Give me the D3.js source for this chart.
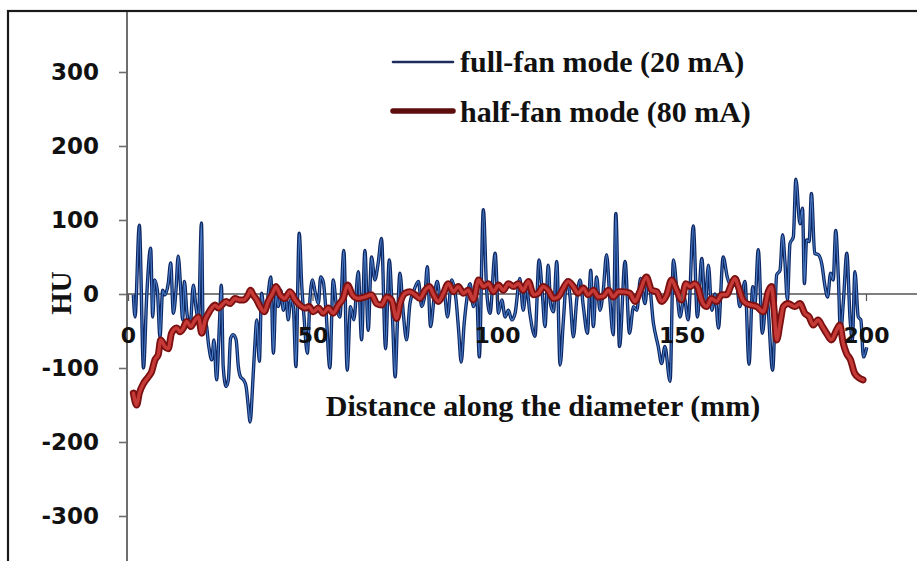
<!DOCTYPE html>
<html>
<head>
<meta charset="utf-8">
<script src="https://cdn.jsdelivr.net/npm/d3@7/dist/d3.min.js"></script>
<style>
  html, body { margin: 0; padding: 0; background: #fff; }
  svg { display: block; }
</style>
</head>
<body>
<svg id="chart" width="917" height="561"></svg>
<script>
// HU profile along the phantom diameter, two CBCT acquisition modes

// full-fan mode (20 mA): distance (mm) and HU
const fullFanMM = [
  1.45, 1.9, 3.07, 4.2, 5.06, 6.14, 6.7, 7.2, 7.95, 8.67, 9.4, 10.0, 10.9, 11.56, 12.3, 13.0, 13.6, 14.3, 14.8, 15.3,
  15.9, 16.8, 17.7, 18.4, 19.1, 19.9, 20.4, 21.1, 21.9, 22.7, 23.3, 24.0, 24.75, 25.3, 25.8, 26.6, 27.2, 27.8, 28.5, 29.3,
  29.9, 30.5, 31.3, 32.0, 32.6, 33.1, 33.8, 34.4, 34.9, 35.6, 36.2, 36.9, 37.6, 38.7, 39.4, 40.1, 40.7, 41.4, 42.1, 42.8,
  43.4, 44.1, 44.8, 45.5, 46.4, 47.1, 47.7, 48.6, 49.3, 50.0, 50.7, 51.6, 52.2, 52.9, 53.7, 54.7, 55.6, 56.5, 57.4, 58.5,
  59.4, 60.3, 61.2, 62.4, 63.3, 64.2, 65.1, 66.0, 66.9, 67.8, 68.7, 69.8, 70.8, 71.7, 72.4, 73.0, 73.7, 74.6, 75.5, 76.4,
  77.5, 78.7, 79.6, 80.5, 81.1, 82.0, 82.9, 83.8, 84.7, 85.6, 86.6, 87.7, 88.9, 89.6, 90.3, 91.1, 91.8, 92.7, 93.6, 94.5,
  95.2, 96.3, 97.2, 98.1, 99.5, 100.4, 101.3, 102.2, 103.1, 104.0, 104.9, 106.2, 107.1, 108.0, 108.9, 110.3, 111.4, 112.3, 113.0, 113.9,
  114.5, 115.3, 116.2, 117.1, 118.0, 118.9, 119.8, 120.7, 121.6, 122.5, 123.4, 124.5, 125.4, 126.1, 127.0, 127.9, 128.8, 129.7, 130.6, 131.5,
  132.2, 133.2, 134.7, 135.9, 137.0, 137.9, 138.9, 140.1, 141.0, 142.4, 143.7, 144.6, 145.5, 146.9, 147.8, 148.9, 149.6, 150.7, 151.8, 153.2,
  154.3, 155.5, 156.4, 157.3, 158.2, 159.1, 160.0, 161.3, 162.4, 163.6, 164.9, 165.8, 167.2, 168.3, 169.3, 169.9, 170.8, 171.9, 173.1, 174.7,
  175.8, 176.7, 177.4, 178.0, 178.7, 179.4, 180.3, 181.0, 182.1, 182.8, 183.3, 183.9, 184.6, 185.2, 186.1, 187.1, 188.0, 188.9, 189.6, 190.4,
  191.1, 191.8, 192.5, 193.1, 193.9, 194.8, 195.7, 196.3, 197.0, 197.9, 198.6, 199.3, 200.2
];
const fullFanHU = [
  -1, -31, 93, -100, -4, 62, -31, 19, 5, -58, 5, -1, 14, 42, -26, 5, 51, 5, -35, 17,
  -22, -46, 12, -17, -35, 96, -53, -40, -71, -89, -62, -116, -44, 12, -98, -125, -116, -60, -55, -62,
  -98, -112, -116, -125, -152, -173, -121, -67, -35, -91, 1, -22, -15, 23, -80, -1, -17, 5, -22, -1,
  -35, -8, -17, -98, 82, 10, -31, -80, -8, 19, 3, -13, 23, 17, -26, -100, 19, -17, -31, 59,
  -103, -17, -35, 30, -62, 59, -49, 50, 19, 42, 75, -74, 46, -35, -112, -40, 28, -26, -62, -13,
  5, 17, -17, 1, 37, -44, -8, 17, -8, 5, -31, 19, -8, -49, -92, -40, -8, 14, -17, -4,
  -85, 114, 5, -26, 55, -26, -8, -31, -22, -35, -26, 21, -22, 10, -26, -57, 46, -1, -44, 39,
  -13, -24, 44, -96, -35, 19, -4, -58, -8, 19, -17, -53, 32, -44, 23, -22, 5, 53, -8, -55,
  109, -71, 44, -53, -17, -22, 21, -13, 23, -40, -71, -94, -71, -118, 46, -4, -31, -4, -35, 92,
  -31, 48, -17, 39, -22, 0, -46, 50, 23, 10, 14, -17, 17, -95, 10, -13, 60, -53, -4, -103,
  26, 32, 80, 46, -8, 68, 77, 155, 95, 116, 14, 73, 71, 136, 55, 53, 41, 10, -4, 28,
  19, 86, 23, -53, -8, 55, -35, -62, 30, -31, -35, -85, -72
];

// half-fan mode (80 mA): distance (mm) and HU
const halfFanMM = [
  1.45, 2.35, 3.07, 4.2, 5.5, 6.4, 7.3, 8.2, 8.85, 10.0, 10.9, 11.8, 13.2, 14.1, 15.0, 15.9, 17.0, 18.2, 19.1, 20.0,
  20.9, 21.8, 22.7, 23.6, 24.5, 25.4, 26.6, 27.6, 29.0, 30.2, 31.4, 32.6, 33.2, 33.9, 34.9, 35.8, 36.9, 38.0, 39.2, 40.1,
  41.2, 42.5, 43.9, 45.3, 46.6, 48.0, 49.1, 50.2, 51.6, 52.9, 54.3, 55.6, 57.0, 58.3, 59.5, 60.8, 62.3, 64.2, 66.0, 67.4,
  68.7, 70.1, 71.4, 72.8, 73.7, 75.1, 76.4, 77.8, 79.1, 80.5, 81.7, 82.8, 84.1, 85.5, 86.8, 88.2, 89.5, 90.9, 92.2, 93.6,
  95.0, 96.3, 97.7, 99.0, 100.4, 101.7, 103.1, 104.5, 105.8, 107.1, 108.5, 109.9, 111.2, 112.5, 113.9, 115.3, 116.6, 118.0, 119.3, 120.7,
  122.0, 123.4, 124.7, 126.1, 127.5, 128.8, 130.2, 131.5, 132.9, 134.2, 136.0, 137.4, 138.7, 140.5, 141.9, 143.3, 144.6, 146.0, 147.3, 148.7,
  150.0, 151.2, 152.3, 153.6, 154.5, 155.4, 156.8, 158.1, 159.5, 160.9, 162.2, 163.6, 164.5, 165.4, 166.6, 167.7, 169.0, 170.4, 172.2, 173.5,
  174.4, 175.1, 175.8, 176.7, 177.6, 178.9, 180.7, 182.1, 183.4, 184.6, 185.7, 187.0, 188.2, 189.3, 190.6, 192.0, 192.9, 193.8, 194.7, 195.8,
  196.9, 198.3, 199.2
];
const halfFanHU = [
  -134, -150, -134, -121, -112, -105, -89, -82, -62, -71, -74, -53, -46, -51, -46, -37, -44, -35, -31, -53,
  -35, -26, -19, -15, -19, -15, -10, -13, -6, -8, -8, -1, 5, -1, -8, -17, -24, -10, 1, 10,
  -1, -6, 3, -8, -15, -19, -17, -24, -19, -26, -19, -26, -15, -6, 12, -1, -6, -4, -1, -13,
  -15, -4, -8, -33, -13, 1, 3, -1, -6, 5, 10, -1, -10, 1, 14, 3, 10, 1, 5, -8,
  19, 10, 14, 3, 12, 5, 14, 10, 14, 5, 17, -1, 1, 10, 5, -6, -4, 8, 17, 10,
  1, 8, -1, 5, -4, -3, 5, -4, 3, 3, 1, -10, 3, 23, 5, 3, -10, -1, 19, 5,
  -8, 14, 10, 14, 8, -8, -17, -6, -10, -1, -1, 14, 21, 10, -8, -13, -15, -17, -24, 3,
  10, -22, -62, -40, -17, -13, -17, -13, -26, -31, -42, -35, -44, -53, -62, -49, -42, -66, -80, -89,
  -107, -114, -116
];

const xTicks = [0, 50, 100, 150, 200];
const yTicks = [300, 200, 100, 0, -100, -200, -300];

const seriesNames = ["full-fan mode (20 mA)", "half-fan mode (80 mA)"];
const xTitle = "Distance along the diameter (mm)";
const yTitle = "HU";

const svg = d3.select("#chart");
const W = 917, H = 561;

const x = d3.scaleLinear().domain([0, 200]).range([128, 866]);
const y = d3.scaleLinear().domain([0, 300]).range([294, 72]);
const axisX = 127;

// plain hyphen-minus for negative tick labels
const tickFmt = d => String(d);

svg.append("rect").attr("width", W).attr("height", H).attr("fill", "#fff");

// outer frame (runs off the right and bottom edges)
svg.append("rect")
  .attr("x", 8).attr("y", 11).attr("width", 1200).attr("height", 1200)
  .attr("fill", "none").attr("stroke", "#1a1a1a").attr("stroke-width", 2.2);

// vertical axis line
svg.append("line")
  .attr("x1", axisX).attr("x2", axisX).attr("y1", 12).attr("y2", H)
  .attr("stroke", "#6e6e6e").attr("stroke-width", 2);

// horizontal zero line
svg.append("line")
  .attr("x1", axisX).attr("x2", W).attr("y1", y(0)).attr("y2", y(0))
  .attr("stroke", "#555").attr("stroke-width", 1.4);

// y axis ticks and labels
const gy = svg.append("g")
  .attr("transform", `translate(${axisX},0)`)
  .call(d3.axisLeft(y).tickValues(yTicks).tickFormat(tickFmt).tickSize(8).tickPadding(20));
gy.select(".domain").remove();
gy.selectAll(".tick line").attr("stroke", "#6e6e6e").attr("stroke-width", 1.6);
gy.selectAll(".tick text")
  .attr("fill", "#111")
  .style("font-family", "'DejaVu Sans', Verdana, sans-serif")
  .style("font-weight", "bold")
  .style("font-size", "23px");

const pairs = (xs, ys) => xs.map((d, i) => [d, ys[i]]);
const line = d3.line()
  .x(d => x(d[0]))
  .y(d => y(d[1]))
  .curve(d3.curveMonotoneX);

const full = pairs(fullFanMM, fullFanHU);
const half = pairs(halfFanMM, halfFanHU);

// full-fan: dark navy stroke with a lighter core
svg.append("path").datum(full).attr("d", line)
  .attr("fill", "none").attr("stroke", "#0e2763").attr("stroke-width", 3.4)
  .attr("stroke-linejoin", "round");
svg.append("path").datum(full).attr("d", line)
  .attr("fill", "none").attr("stroke", "#4a7cc6").attr("stroke-width", 1.2)
  .attr("stroke-linejoin", "round");

// half-fan: thick dark red stroke with a brighter core
svg.append("path").datum(half).attr("d", line)
  .attr("fill", "none").attr("stroke", "#7c1010").attr("stroke-width", 7)
  .attr("stroke-linejoin", "round").attr("stroke-linecap", "round");
svg.append("path").datum(half).attr("d", line)
  .attr("fill", "none").attr("stroke", "#c53a36").attr("stroke-width", 3.4)
  .attr("stroke-linejoin", "round").attr("stroke-linecap", "round");

// x axis ticks and labels, drawn over the data
const gx = svg.append("g")
  .attr("transform", `translate(0,${y(0)})`)
  .call(d3.axisBottom(x).tickValues(xTicks).tickFormat(tickFmt).tickSize(7));
gx.select(".domain").remove();
gx.selectAll(".tick line").attr("stroke", "#555").attr("stroke-width", 1.2);
gx.selectAll(".tick text")
  .attr("y", 49).attr("dy", 0)
  .attr("fill", "#111")
  .style("font-family", "'DejaVu Sans', Verdana, sans-serif")
  .style("font-weight", "bold")
  .style("font-size", "22px");

const serif = "'Liberation Serif', 'Times New Roman', serif";

// axis titles
svg.append("text")
  .attr("x", 543).attr("y", 416)
  .attr("text-anchor", "middle")
  .style("font-family", serif).style("font-weight", "bold").style("font-size", "30px")
  .attr("fill", "#111")
  .text(xTitle);

svg.append("text")
  .attr("transform", "translate(71,293) rotate(-90)")
  .attr("text-anchor", "middle")
  .style("font-family", serif).style("font-weight", "bold").style("font-size", "29px")
  .attr("fill", "#111")
  .text(yTitle);

// legend
const legend = [
  { name: seriesNames[0], color: "#1c2c5c", width: 2.6, ly: 62, ty: 72 },
  { name: seriesNames[1], color: "#5e0d0d", width: 5.5, ly: 111, ty: 122 }
];
const lg = svg.append("g");
legend.forEach(d => {
  lg.append("line")
    .attr("x1", 393).attr("x2", 453).attr("y1", d.ly).attr("y2", d.ly)
    .attr("stroke", d.color).attr("stroke-width", d.width)
    .attr("stroke-linecap", "round");
  lg.append("text")
    .attr("x", 460).attr("y", d.ty)
    .style("font-family", serif).style("font-weight", "bold").style("font-size", "30px")
    .attr("fill", "#111")
    .text(d.name);
});
</script>
</body>
</html>
